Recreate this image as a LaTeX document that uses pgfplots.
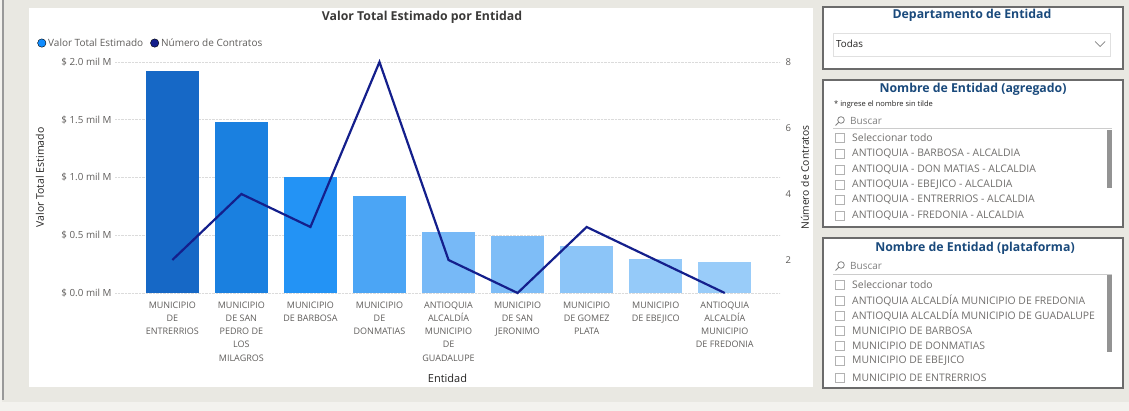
\documentclass[border=0pt]{standalone}
\usepackage{fontspec}
\setmainfont{Open Sans}
\usepackage{pgfplots}
\pgfplotsset{compat=1.18}

\definecolor{bgbeige}{HTML}{E9E8E2}
\definecolor{bglight}{HTML}{F3F2EE}
\definecolor{txtgray}{HTML}{605E5C}
\definecolor{txtdark}{HTML}{252423}
\definecolor{slicerblue}{HTML}{1A4A7C}
\definecolor{bordergray}{HTML}{6B6B6B}
\definecolor{c1}{HTML}{1668C6}
\definecolor{c2}{HTML}{1A80E0}
\definecolor{c3}{HTML}{2393F5}
\definecolor{c4}{HTML}{4BA5F5}
\definecolor{c5}{HTML}{77B9F7}
\definecolor{c6}{HTML}{7EBDF7}
\definecolor{c7}{HTML}{8CC5F8}
\definecolor{c8}{HTML}{95CAF9}
\definecolor{c9}{HTML}{99CCF9}
\definecolor{legblue}{HTML}{118DFF}
\definecolor{navy}{HTML}{141F8C}

\pgfplotsset{
  bar/.style={ybar, bar width=53pt, bar shift=0pt, draw=none, forget plot},
  frame/.style={
    at={(115pt,118pt)}, anchor=south west, scale only axis,
    width=665pt, height=231pt, xmin=-0.83, xmax=8.8,
    axis line style={draw=none}, tick style={draw=none},
    /pgf/number format/assume math mode=true,
  },
}

% item list of a slicer
\newcommand{\slitem}[2]{%
  \draw[gray!60, line width=0.5pt] (835,#1-4.5) rectangle (844,#1+4.5);
  \node[anchor=west, font=\fontsize{10.4}{11}\selectfont, text=txtgray!90, inner sep=0pt] at (852,#1) {#2};}
\newcommand{\search}[1]{%
  \draw[gray, line width=0.8pt] (841,#1+1) circle (3.3);
  \draw[gray, line width=0.9pt] (838.7,#1-1.3) -- (835.5,#1-4.5);
  \node[anchor=west, font=\fontsize{10}{11}\selectfont, text=gray, inner sep=0pt] at (850,#1) {Buscar};}

\begin{document}
\begin{tikzpicture}[x=1pt, y=1pt]
\fill[bgbeige] (0,0) rectangle (1129,411);
\useasboundingbox (0,0) rectangle (1129,411);
\fill[bglight] (0,0) rectangle (1129,9);
\fill[bglight] (0,0) rectangle (2,411);
\draw[gray!80, line width=1.5pt] (3,411) -- (3,11);

% main chart panel
\fill[white] (29,403) rectangle (813,24);
\node[font=\bfseries\fontsize{12.3}{14}\selectfont, text=txtdark!90] at (422,394)
  {Valor Total Estimado por Entidad};

\begin{axis}[frame,
  ymin=0, ymax=2,
  xtick={0,...,8},
  xticklabels={{MUNICIPIO\\DE\\ENTRERRIOS},
    {MUNICIPIO\\DE SAN\\PEDRO DE\\LOS\\MILAGROS},
    {MUNICIPIO\\DE BARBOSA},
    {MUNICIPIO\\DE\\DONMATIAS},
    {ANTIOQUIA\\ALCALDÍA\\MUNICIPIO\\DE\\GUADALUPE},
    {MUNICIPIO\\DE SAN\\JERONIMO},
    {MUNICIPIO\\DE GOMEZ\\PLATA},
    {MUNICIPIO\\DE EBEJICO},
    {ANTIOQUIA\\ALCALDÍA\\MUNICIPIO\\DE FREDONIA}},
  xticklabel style={align=center, text=txtgray,
    font=\fontsize{9}{13.3}\selectfont, yshift=-5pt},
  ytick={0,0.5,1,1.5,2},
  yticklabels={\$ 0.0 mil M,\$ 0.5 mil M,\$ 1.0 mil M,\$ 1.5 mil M,\$ 2.0 mil M},
  yticklabel style={text=txtgray, font=\fontsize{9.8}{11}\selectfont},
  ymajorgrids, grid style={densely dotted, black!14, line width=0.8pt},
  xlabel={Entidad}, ylabel={Valor Total Estimado},
  every axis x label/.style={at={(axis description cs:0.5,-0.368)},
    anchor=center, text=txtdark, font=\fontsize{11}{12}\selectfont},
  every axis y label/.style={at={(axis description cs:-0.113,0.5)},
    rotate=90, anchor=center, text=txtdark, font=\fontsize{10.5}{12}\selectfont},
  legend image code/.code={\fill[#1] (0pt,0pt) circle (4.2pt);},
  legend style={at={(axis description cs:-0.117,1.082)}, anchor=west,
    draw=none, fill=none, legend columns=2, text=txtgray,
    font=\fontsize{10}{11}\selectfont, inner sep=0pt,
    /tikz/every even column/.append style={column sep=5pt}},
  legend cell align=left,
]
\addplot[bar, fill=c1] coordinates {(0,1.92)};
\addplot[bar, fill=c2] coordinates {(1,1.48)};
\addplot[bar, fill=c3] coordinates {(2,1.00)};
\addplot[bar, fill=c4] coordinates {(3,0.84)};
\addplot[bar, fill=c5] coordinates {(4,0.53)};
\addplot[bar, fill=c6] coordinates {(5,0.49)};
\addplot[bar, fill=c7] coordinates {(6,0.41)};
\addplot[bar, fill=c8] coordinates {(7,0.29)};
\addplot[bar, fill=c9] coordinates {(8,0.27)};
\addlegendimage{fill=legblue}
\addlegendimage{fill=navy}
\legend{Valor Total Estimado, Número de Contratos}
\end{axis}

\begin{axis}[frame,
  ymin=1, ymax=8, clip=false,
  axis x line=none, axis y line*=right,
  ytick={2,4,6,8},
  yticklabel style={text=txtgray, font=\fontsize{9.5}{11}\selectfont, xshift=2pt},
  ylabel={Número de Contratos},
  every axis y label/.style={at={(axis description cs:1.0376,0.5)},
    rotate=90, anchor=center, text=txtdark, font=\fontsize{10.3}{12}\selectfont},
]
\addplot[navy, line width=2.2pt, line join=miter] coordinates
  {(0,2) (1,4) (2,3) (3,8) (4,2) (5,1) (6,3) (7,2) (8,1)};
\end{axis}

% slicer 1
\draw[bordergray, line width=1.3pt, fill=white] (823,404) rectangle (1123,342);
\node[font=\bfseries\fontsize{12.3}{14}\selectfont, text=slicerblue] at (972,396)
  {Departamento de Entidad};
\draw[black!12, line width=0.6pt] (833,378) rectangle (1110,355);
\node[anchor=west, font=\fontsize{9.8}{11}\selectfont, text=txtdark, inner sep=0pt] at (836,367) {Todas};
\draw[gray, line width=0.7pt] (1095,369.5) -- (1100,364.5) -- (1105,369.5);

% slicer 2
\draw[bordergray, line width=1.3pt, fill=white] (823,331) rectangle (1123,184);
\node[font=\bfseries\fontsize{12.3}{14}\selectfont, text=slicerblue] at (973,322)
  {Nombre de Entidad (agregado)};
\node[anchor=west, font=\fontsize{7.5}{8}\selectfont, text=txtdark, inner sep=0pt] at (834,306)
  {* ingrese el nombre sin tilde};
\search{290}
\draw[black!20, line width=0.6pt] (833,283) -- (1112,283);
\fill[gray!85] (1107,281) rectangle (1112,223);
\slitem{273}{Seleccionar todo}
\slitem{257}{ANTIOQUIA - BARBOSA - ALCALDIA}
\slitem{241}{ANTIOQUIA - DON MATIAS - ALCALDIA}
\slitem{226}{ANTIOQUIA - EBEJICO - ALCALDIA}
\slitem{211}{ANTIOQUIA - ENTRERRIOS - ALCALDIA}
\slitem{195}{ANTIOQUIA - FREDONIA - ALCALDIA}

% slicer 3
\draw[bordergray, line width=1.3pt, fill=white] (823,173) rectangle (1123,23);
\node[font=\bfseries\fontsize{12.3}{14}\selectfont, text=slicerblue] at (975,163)
  {Nombre de Entidad (plataforma)};
\search{145}
\draw[black!20, line width=0.6pt] (833,137) -- (1112,137);
\fill[gray!85] (1107,136) rectangle (1112,59);
\slitem{126}{Seleccionar todo}
\slitem{110}{ANTIOQUIA ALCALDÍA MUNICIPIO DE FREDONIA}
\slitem{95}{ANTIOQUIA ALCALDÍA MUNICIPIO DE GUADALUPE}
\slitem{80}{MUNICIPIO DE BARBOSA}
\slitem{65}{MUNICIPIO DE DONMATIAS}
\slitem{50}{MUNICIPIO DE EBEJICO}
\slitem{33}{MUNICIPIO DE ENTRERRIOS}
\end{tikzpicture}
\end{document}
